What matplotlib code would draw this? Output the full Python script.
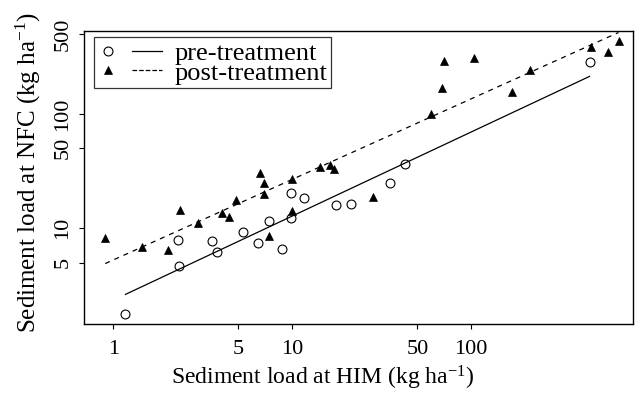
import numpy as np
import matplotlib
matplotlib.use("Agg")
import matplotlib.pyplot as plt
from matplotlib.lines import Line2D
from matplotlib.legend_handler import HandlerBase

plt.rcParams['font.family'] = ['Liberation Serif', 'DejaVu Serif']
plt.rcParams['mathtext.fontset'] = 'custom'
plt.rcParams['mathtext.rm'] = 'Liberation Serif'
plt.rcParams['mathtext.it'] = 'Liberation Serif:italic'
plt.rcParams['mathtext.bf'] = 'Liberation Serif:bold'

# ---- data ----
pre_him = [1.17, 2.34, 2.29, 3.56, 3.80, 5.33, 6.43, 7.44, 8.71, 9.83, 11.7, 9.79,
           17.6, 21.3, 35.3, 42.4, 458]
pre_nfc = [1.76, 4.64, 7.92, 7.74, 6.16, 9.17, 7.34, 11.5, 6.51, 20.3, 18.2, 12.3,
           15.9, 16.2, 24.7, 36.2, 282]

post_him = [0.902, 1.45, 2.02, 2.36, 2.96, 4.03, 4.46, 4.87, 6.63, 6.95, 6.95, 7.37,
            10.0, 10.0, 14.2, 16.3, 17.2, 28.2, 70.0, 103, 68.2, 212, 169, 59.6,
            468, 577, 665]
post_nfc = [8.13, 6.85, 6.41, 14.3, 11.1, 13.7, 12.4, 17.5, 30.5, 24.9, 19.8, 8.51,
            26.7, 14.1, 34.0, 35.9, 33.0, 18.8, 288, 308, 170, 243, 157, 99.3,
            382, 348, 437]

# log10(NFC) = a + b * log10(HIM)
pre_fit = (0.370, 0.736)
post_fit = (0.7215, 0.7054)

x_ticks = [1, 5, 10, 50, 100]
x_ticklabels = ['1', '5', '10', '50', '100']
y_ticks = [5, 10, 50, 100, 500]
y_ticklabels = ['5', '10', '50', '100', '500']

labels = ['pre-treatment', 'post-treatment']


class MarkerLineHandler(HandlerBase):
    def create_artists(self, legend, orig_handle, xdescent, ydescent, width, height,
                       fontsize, trans):
        mk, ln = orig_handle
        y = height / 2 - ydescent
        m = Line2D([-xdescent + width * 0.163], [y], linestyle='none',
                   marker=mk.get_marker(), markersize=mk.get_markersize(),
                   markerfacecolor=mk.get_markerfacecolor(),
                   markeredgecolor=mk.get_markeredgecolor(),
                   markeredgewidth=mk.get_markeredgewidth())
        l = Line2D([-xdescent + width * 0.533, -xdescent + width], [y, y],
                   color=ln.get_color(), linewidth=ln.get_linewidth(),
                   linestyle=ln.get_linestyle())
        m.set_transform(trans)
        l.set_transform(trans)
        return [m, l]


fig = plt.figure(figsize=(6.39, 3.94), dpi=100)
ax = fig.add_axes([84.3 / 639, 1 - 324.3 / 394, (633.3 - 84.3) / 639, (324.3 - 30.7) / 394])
ax.set_xscale('log')
ax.set_yscale('log')

pts_pre, = ax.plot(pre_him, pre_nfc, linestyle='none', marker='o', markersize=6.4,
                   markerfacecolor='white', markeredgecolor='black', markeredgewidth=0.8)
pts_post, = ax.plot(post_him, post_nfc, linestyle='none', marker='^', markersize=6.2,
                    markerfacecolor='black', markeredgecolor='black', markeredgewidth=0.5)

xp = np.array([min(pre_him), max(pre_him)])
ln_pre, = ax.plot(xp, 10 ** (pre_fit[0] + pre_fit[1] * np.log10(xp)), color='black', lw=0.9)
xq = np.array([min(post_him), max(post_him)])
ln_post, = ax.plot(xq, 10 ** (post_fit[0] + post_fit[1] * np.log10(xq)), color='black',
                   lw=0.9, linestyle=(0, (4, 4)))

ax.set_xlim(0.689, 804)
ax.set_ylim(1.44, 535)

ax.xaxis.set_minor_locator(matplotlib.ticker.NullLocator())
ax.yaxis.set_minor_locator(matplotlib.ticker.NullLocator())
ax.set_xticks(x_ticks)
ax.set_xticklabels(x_ticklabels)
ax.set_yticks(y_ticks)
ax.set_yticklabels(y_ticklabels, rotation=90, va='center')
ax.tick_params(axis='both', direction='out', length=3.5, width=0.8, labelsize=16, color='black')
ax.tick_params(axis='x', pad=8)
ax.tick_params(axis='y', pad=5)
for s in ax.spines.values():
    s.set_linewidth(1.0)
    s.set_color('black')

ax.set_xlabel('Sediment load at HIM (kg ha$^{\\mathrm{-1}}$)', fontsize=17)
ax.set_ylabel('Sediment load at NFC (kg ha$^{\\mathrm{-1}}$)', fontsize=18)
ax.xaxis.set_label_coords(0.435, -0.135)
ax.yaxis.set_label_coords(-0.075, 0.517)

leg = ax.legend([(pts_pre, ln_pre), (pts_post, ln_post)], labels,
                handler_map={tuple: MarkerLineHandler()}, loc='upper left',
                bbox_to_anchor=(0.0177, 0.9775), borderaxespad=0,
                fontsize=19, frameon=True, fancybox=False,
                handlelength=2.44, handletextpad=0.46, labelspacing=-0.14,
                borderpad=0.15)
leg.get_frame().set_edgecolor('black')
leg.get_frame().set_linewidth(0.9)

fig.savefig('out.png', dpi=100)
